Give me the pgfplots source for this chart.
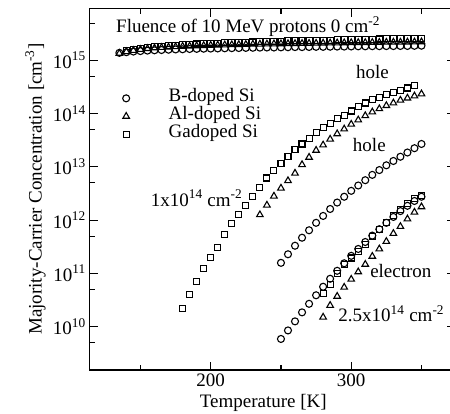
\documentclass[border=0pt]{standalone}
\usepackage{fontspec}
\setmainfont{Liberation Serif}
\usepackage{pgfplots}
\pgfplotsset{compat=1.18}
\newcommand{\fs}{\fontsize{19bp}{22bp}\selectfont}
\pgfplotsset{
  circ/.style={only marks, mark=o, mark size=3.5bp, line width=1.1bp},
  tri/.style={only marks, mark=triangle, mark size=3.8bp, line width=1.1bp},
  sq/.style={only marks, mark=square, mark size=3.0bp, line width=1.1bp},
}
\begin{document}
\begin{tikzpicture}[font=\fs]
\begin{axis}[
  name=ax, at={(0,0)}, anchor=south west,
  scale only axis, width=365.9bp, height=361.7bp,
  xmin=113.6, xmax=374,
  ymode=log, ymin=1.54e9, ymax=9.47e15,
  xtick={200,300}, xticklabels={200,300},
  minor xtick={150,250,350},
  ytick={1e10,1e11,1e12,1e13,1e14,1e15},
  yticklabels={10\textsuperscript{10},10\textsuperscript{11},10\textsuperscript{12},10\textsuperscript{13},10\textsuperscript{14},10\textsuperscript{15}},
  minor ytick={5e9,5e10,5e11,5e12,5e13,5e14,5e15},
  tick align=inside,
  major tick length=8.5bp, minor tick length=5.5bp,
  tick style={black, line width=1.1bp},
  axis line style={line width=1.2bp},
  tick label style={font=\fs},
  xlabel={Temperature [K]},
  ylabel={Majority-Carrier Concentration [cm\textsuperscript{-3}]},
  every axis x label/.style={at={(axis description cs:0.4755,-0.1037)}, anchor=base, font=\fs},
  every axis y label/.style={at={(axis description cs:-0.130,0.5)}, rotate=90, anchor=base, font=\fs},
  legend style={draw=none, fill=none, at={(axis description cs:0.0825,0.782)}, anchor=north west,
    font=\fs, column sep=39bp, row sep=0pt,
    nodes={inner sep=0pt, text height=12bp, text depth=6bp}},
  legend cell align=left,
  clip=false,
]
% ---- Fluence 0 ----
\addplot[circ] coordinates {
(135,1.38e15)(140,1.42e15)(145,1.46e15)(150,1.49e15)(155,1.52e15)(160,1.54e15)(165,1.56e15)(170,1.58e15)
(175,1.60e15)(180,1.61e15)(185,1.63e15)(190,1.64e15)(195,1.65e15)(200,1.66e15)(205,1.67e15)(210,1.68e15)
(215,1.69e15)(220,1.70e15)(225,1.71e15)(230,1.72e15)(235,1.73e15)(240,1.74e15)(245,1.74e15)(250,1.75e15)
(255,1.76e15)(260,1.77e15)(265,1.77e15)(270,1.78e15)(275,1.79e15)(280,1.79e15)(285,1.80e15)(290,1.81e15)
(295,1.81e15)(300,1.82e15)(305,1.83e15)(310,1.83e15)(315,1.84e15)(320,1.84e15)(325,1.85e15)(330,1.85e15)
(335,1.86e15)(340,1.86e15)(345,1.87e15)(350,1.88e15)};
\addlegendentry{B-doped Si}
\addplot[tri] coordinates {
(135,1.35e15)(140,1.45e15)(145,1.53e15)(150,1.60e15)(155,1.66e15)(160,1.70e15)(165,1.74e15)(170,1.77e15)
(175,1.80e15)(180,1.83e15)(185,1.85e15)(190,1.87e15)(195,1.89e15)(200,1.91e15)(205,1.93e15)(210,1.94e15)
(215,1.96e15)(220,1.97e15)(225,1.98e15)(230,2.00e15)(235,2.01e15)(240,2.02e15)(245,2.03e15)(250,2.04e15)
(255,2.05e15)(260,2.06e15)(265,2.07e15)(270,2.08e15)(275,2.09e15)(280,2.10e15)(285,2.11e15)(290,2.12e15)
(295,2.13e15)(300,2.14e15)(305,2.15e15)(310,2.15e15)(315,2.16e15)(320,2.17e15)(325,2.18e15)(330,2.19e15)
(335,2.19e15)(340,2.20e15)(345,2.21e15)(350,2.22e15)};
\addlegendentry{Al-doped Si}
\addplot[sq] coordinates {
(140,1.55e15)(145,1.62e15)(150,1.68e15)(155,1.74e15)(160,1.79e15)(165,1.84e15)(170,1.88e15)
(175,1.92e15)(180,1.96e15)(185,1.99e15)(190,2.02e15)(195,2.05e15)(200,2.08e15)(205,2.10e15)(210,2.13e15)
(215,2.15e15)(220,2.17e15)(225,2.19e15)(230,2.21e15)(235,2.23e15)(240,2.25e15)(245,2.27e15)(250,2.29e15)
(255,2.31e15)(260,2.32e15)(265,2.34e15)(270,2.36e15)(275,2.37e15)(280,2.39e15)(285,2.40e15)(290,2.42e15)
(295,2.43e15)(300,2.45e15)(305,2.46e15)(310,2.48e15)(315,2.49e15)(320,2.51e15)(325,2.52e15)(330,2.54e15)
(335,2.55e15)(340,2.57e15)(345,2.58e15)(350,2.60e15)};
\addlegendentry{Gadoped Si}
% ---- Fluence 1e14 ----
\addplot[forget plot, sq] coordinates {
(180,2.19e10)(185,3.98e10)(190,7.08e10)(195,1.23e11)(200,2.00e11)(205,3.09e11)(210,5.37e11)(215,8.51e11)
(220,1.26e12)(225,1.86e12)(230,2.82e12)(235,4.17e12)(240,6.17e12)(245,8.51e12)(250,1.17e13)(255,1.55e13)
(260,2.09e13)(265,2.69e13)(270,3.39e13)(275,4.37e13)(280,5.50e13)(285,6.61e13)(290,7.94e13)(295,9.33e13)
(300,1.12e14)(305,1.35e14)(310,1.58e14)(315,1.82e14)(320,2.04e14)(325,2.29e14)(330,2.51e14)(335,2.75e14)
(340,3.02e14)(345,3.31e14)};
\addplot[forget plot, tri] coordinates {
(235,1.26e12)(240,1.91e12)(245,2.82e12)(250,3.98e12)(255,5.50e12)(260,7.59e12)(265,1.10e13)(270,1.51e13)
(275,2.04e13)(280,2.57e13)(285,3.31e13)(290,4.17e13)(295,5.13e13)(300,6.31e13)(305,7.59e13)(310,9.12e13)
(315,1.07e14)(320,1.23e14)(325,1.41e14)(330,1.58e14)(335,1.78e14)(340,1.95e14)(345,2.14e14)(350,2.34e14)};
\addplot[forget plot, circ] coordinates {
(250,1.58e11)(255,2.29e11)(260,3.31e11)(265,4.68e11)(270,6.46e11)(275,8.91e11)(280,1.20e12)(285,1.62e12)
(290,2.14e12)(295,2.75e12)(300,3.55e12)(305,4.47e12)(310,5.62e12)(315,7.08e12)(320,8.71e12)(325,1.07e13)
(330,1.29e13)(335,1.55e13)(340,1.86e13)(345,2.24e13)(350,2.69e13)};
% ---- Fluence 2.5e14 ----
\addplot[forget plot, circ] coordinates {
(250,5.89e9)(255,8.51e9)(260,1.26e10)(265,1.86e10)(270,2.69e10)(275,3.89e10)(280,5.62e10)(285,7.94e10)
(290,1.12e11)(295,1.55e11)(300,2.14e11)(305,2.88e11)(310,3.89e11)(315,5.13e11)(320,6.76e11)(325,8.91e11)
(330,1.15e12)(335,1.48e12)(340,1.86e12)(345,2.29e12)(350,2.75e12)};
\addplot[forget plot, sq] coordinates {
(280,4.17e10)(285,6.17e10)(290,1.00e11)(295,1.45e11)(300,1.95e11)(305,2.63e11)(310,3.55e11)(315,4.90e11)
(320,6.61e11)(325,9.12e11)(330,1.20e12)(335,1.58e12)(340,2.09e12)(345,2.57e12)(350,2.88e12)};
\addplot[forget plot, tri] coordinates {
(280,1.51e10)(285,2.51e10)(290,3.72e10)(295,5.50e10)(300,7.76e10)(305,1.07e11)(310,1.48e11)(315,2.09e11)
(320,2.88e11)(325,3.98e11)(330,5.62e11)(335,7.59e11)(340,1.05e12)(345,1.41e12)(350,1.78e12)};
% ---- annotations ----
\node[anchor=base west, inner sep=0pt] at (axis cs:132.6,3.28e15) {Fluence of 10 MeV protons 0 cm\textsuperscript{-2}};
\node[anchor=base west, inner sep=0pt] at (axis cs:303.4,4.57e14) {hole};
\node[anchor=base west, inner sep=0pt] at (axis cs:301.1,1.92e13) {hole};
\node[anchor=base west, inner sep=0pt] at (axis cs:157.3,1.84e12) {1x10\textsuperscript{14} cm\textsuperscript{-2}};
\node[anchor=base west, inner sep=0pt] at (axis cs:313.4,8.55e10) {electron};
\node[anchor=base west, inner sep=0pt] at (axis cs:290.8,1.24e10) {2.5x10\textsuperscript{14} cm\textsuperscript{-2}};
\end{axis}
\pgfresetboundingbox
\path[use as bounding box] (-89.3bp,-44bp) rectangle (360.7bp,370bp);
\end{tikzpicture}
\end{document}
